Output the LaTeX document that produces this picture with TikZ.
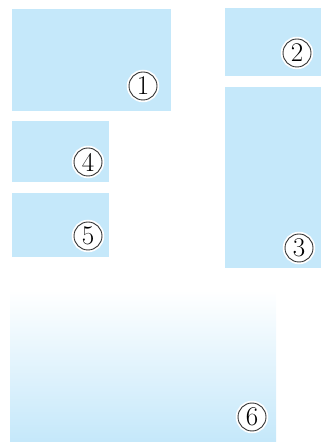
\documentclass[tikz,border=0pt]{standalone}
\begin{document}
\definecolor{panelblue}{RGB}{197,232,250}
\begin{tikzpicture}[x=1pt,y=1pt,
  panel/.style={fill=panelblue, draw=none, inner sep=0pt, anchor=north west},
  fadepanel/.style={top color=white, bottom color=panelblue, draw=none, inner sep=0pt, anchor=north west},
  numcirc/.style={circle, draw=black!80, line width=0.9pt, fill=white, minimum size=28pt, inner sep=0pt,
    preaction={draw=white, line width=4.5pt},
    font=\fontsize{27}{27}\selectfont}
]
\useasboundingbox (0,0) rectangle (321,443);
\node[panel, minimum width=159pt, minimum height=102pt] (b1) at (12,434) {};
\node[panel, minimum width=96pt, minimum height=68pt] (b2) at (225,435) {};
\node[panel, minimum width=96pt, minimum height=181pt] (b3) at (225,356) {};
\node[panel, minimum width=97pt, minimum height=61pt] (b4) at (12,322) {};
\node[panel, minimum width=97pt, minimum height=64pt] (b5) at (12,250) {};
\node[fadepanel, minimum width=266pt, minimum height=151pt] (b6) at (10,153) {};
\node[numcirc] (n1) at (143,357) {1};
\node[numcirc] (n2) at (297,390) {2};
\node[numcirc] (n3) at (299,195) {3};
\node[numcirc] (n4) at (88,281) {4};
\node[numcirc] (n5) at (88,207) {5};
\node[numcirc] (n6) at (252,26) {6};
\end{tikzpicture}
\end{document}
